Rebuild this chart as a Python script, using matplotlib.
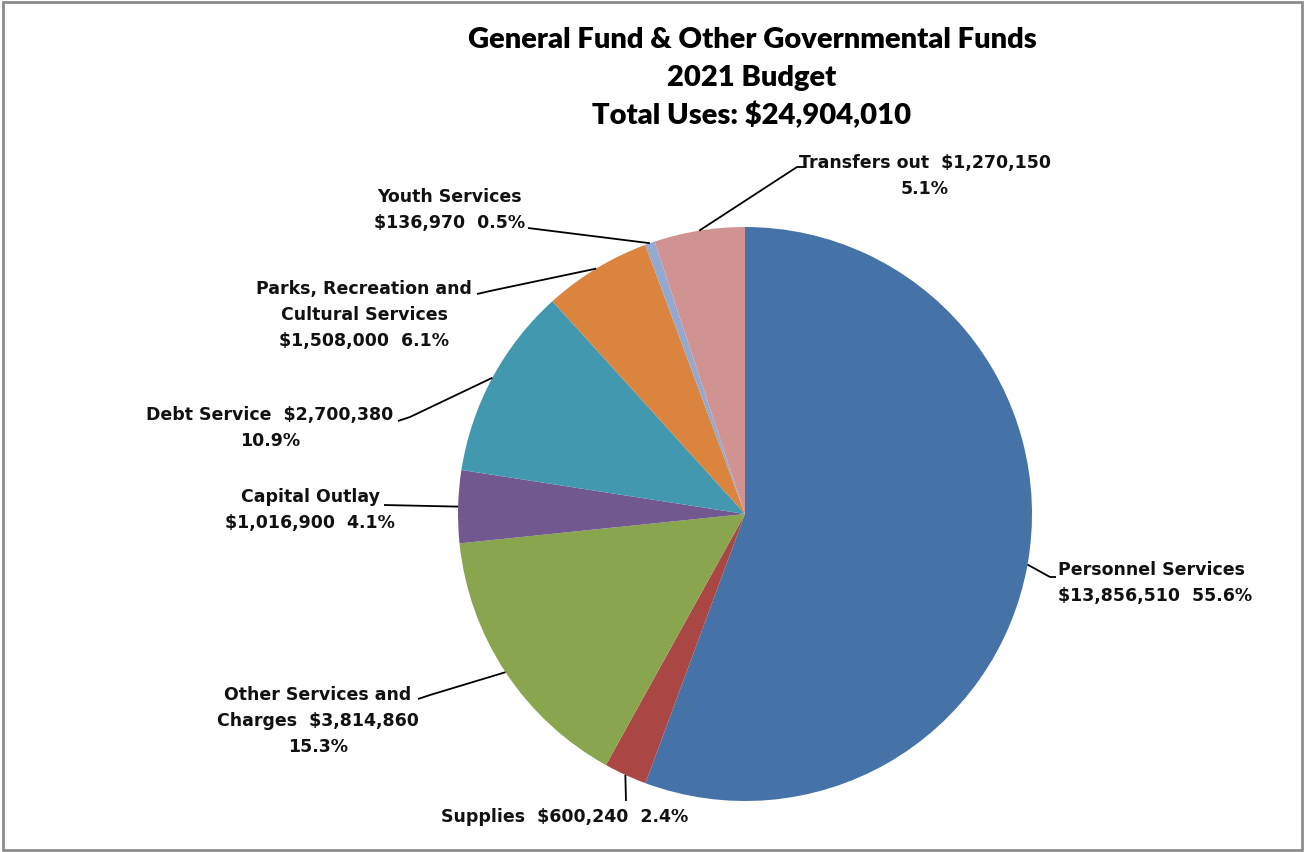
"""General Fund & Other Governmental Funds - 2021 budget uses pie."""
import numpy as np
import matplotlib.pyplot as plt
from matplotlib.patches import Rectangle

categories = ["Personnel Services", "Supplies", "Other Services and Charges",
              "Capital Outlay", "Debt Service",
              "Parks, Recreation and Cultural Services", "Youth Services",
              "Transfers out"]
amounts = [13856510, 600240, 3814860, 1016900, 2700380, 1508000, 136970, 1270150]
pct = ["55.6%", "2.4%", "15.3%", "4.1%", "10.9%", "6.1%", "0.5%", "5.1%"]
colors = ["#4572A7", "#AA4643", "#89A54E", "#71588F", "#4198AF",
          "#DB843D", "#93A9CF", "#D19392"]

total = sum(amounts)
money = ["${:,}".format(a) for a in amounts]

label_lines = [
    ["Personnel Services", f"{money[0]}  {pct[0]}"],
    [f"Supplies  {money[1]}  {pct[1]}"],
    ["Other Services and", f"Charges  {money[2]}", pct[2]],
    ["Capital Outlay", f"{money[3]}  {pct[3]}"],
    [f"Debt Service  {money[4]}", pct[4]],
    ["Parks, Recreation and", "Cultural Services", f"{money[5]}  {pct[5]}"],
    ["Youth Services", f"{money[6]}  {pct[6]}"],
    [f"Transfers out  {money[7]}", pct[7]],
]

W, H = 1305, 853
fig = plt.figure(figsize=(W / 100, H / 100), dpi=100)
ax = fig.add_axes([0, 0, 1, 1])


def Y(y):
    # pixel row (from top) -> data y
    return H - y


cx, cy, R = 745, 515, 287
wedges, _ = ax.pie(amounts, colors=colors, startangle=90, counterclock=False,
                   center=(cx, Y(cy)), radius=R, frame=True)
ax.set_xlim(0, W)
ax.set_ylim(0, H)
ax.set_aspect("equal")
ax.axis("off")

# label placement: text anchor, first-line row, leader path from wedge
layout = [
    dict(x=1058, y=570, ha="left", path=[(1050, 578), (1056, 578)]),
    dict(x=565, y=817, ha="center", path=[(626, 802)]),
    dict(x=318, y=695, ha="center", path=[(430, 696), (418, 700)]),
    dict(x=310, y=497, ha="center", path=[(384, 506)]),
    dict(x=270, y=415, ha="center", path=[(410, 418), (398, 422)]),
    dict(x=364, y=289, ha="center", path=[(490, 292), (477, 295)]),
    dict(x=450, y=197, ha="center", path=[(528, 229)]),
    dict(x=925, y=163, ha="center", path=[(797, 168), (804, 168)]),
]

label_font = dict(family="DejaVu Sans", fontweight="bold", fontsize=12.5,
                  color="#111111")
pitch = 26
for w, lines, lay in zip(wedges, label_lines, layout):
    mid = np.deg2rad((w.theta1 + w.theta2) / 2)
    px = cx + R * np.cos(mid)
    py = Y(cy) + R * np.sin(mid)
    xs = [px] + [p[0] for p in lay["path"]]
    ys = [py] + [Y(p[1]) for p in lay["path"]]
    ax.plot(xs, ys, color="black", lw=1.3, solid_capstyle="butt")
    for i, line in enumerate(lines):
        ax.text(lay["x"], Y(lay["y"] + i * pitch), line, ha=lay["ha"],
                va="center", **label_font)

title_lines = ["General Fund & Other Governmental Funds", "2021 Budget",
               f"Total Uses: ${total:,}"]
for i, t in enumerate(title_lines):
    ax.text(752, Y(40 + i * 37.5), t, ha="center", va="center",
            family="Lato", fontweight="heavy", fontsize=21, color="black")

fig.patches.append(Rectangle((3, 2), W - 6, H - 5, transform=None,
                             fill=False, edgecolor="#8c8c8c", lw=2))

fig.savefig("out.png", dpi=100)
